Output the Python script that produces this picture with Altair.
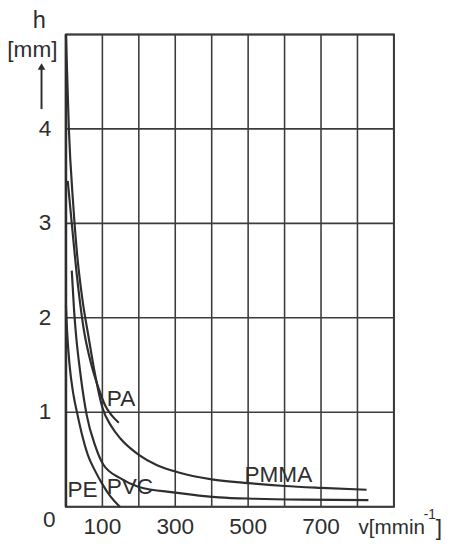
import altair as alt
import pandas as pd

FONT = "Liberation Sans"
INK = "#2e2e2e"

# curve data: v [m/min], h [mm]
pe_v = [0, 3, 10, 20, 32, 45, 60, 80, 100, 120, 148]
pe_h = [2.13, 1.87, 1.5, 1.2, 0.97, 0.75, 0.55, 0.38, 0.24, 0.12, 0.0]

pvc_v = [16, 22, 27, 40, 57, 80, 102, 150, 200, 300, 420, 520, 650, 830]
pvc_h = [2.5, 2.1, 1.85, 1.4, 0.97, 0.65, 0.45, 0.3, 0.21, 0.15, 0.1, 0.085, 0.075, 0.07]

pa_v = [5, 16, 30, 48, 70, 90, 108, 125, 145]
pa_h = [3.45, 3.0, 2.45, 1.9, 1.5, 1.25, 1.07, 0.97, 0.89]

pmma_v = [0, 8, 20, 30, 45, 62, 80, 100, 125, 150, 200, 250, 312, 400, 500, 600, 700, 825]
pmma_h = [5.0, 4.0, 3.2, 2.7, 2.2, 1.8, 1.4, 1.05, 0.85, 0.72, 0.55, 0.44, 0.36, 0.29, 0.25, 0.22, 0.2, 0.18]

# grid and tick labels
x_grid = [0, 100, 200, 300, 400, 500, 600, 700, 800, 900]
y_grid = [0, 1, 2, 3, 4, 5]
x_labels = [100, 300, 500, 700]
y_labels = [1, 2, 3, 4]

# curve labels
lab_text = ["PA", "PMMA", "PVC", "PE"]
lab_v = [112, 490, 112, 4]
lab_h = [1.14, 0.34, 0.21, 0.18]

rows = []
for name, vs, hs in [("PE", pe_v, pe_h), ("PVC", pvc_v, pvc_h),
                     ("PA", pa_v, pa_h), ("PMMA", pmma_v, pmma_h)]:
    for i, (v, h) in enumerate(zip(vs, hs)):
        rows.append({"series": name, "v": v, "h": h, "o": i})
df = pd.DataFrame(rows)

xs = alt.Scale(domain=[0, 900], nice=False, zero=False)
ys = alt.Scale(domain=[0, 5], nice=False, zero=False)
X = lambda f: alt.X(f, type="quantitative", scale=xs, axis=None)
Y = lambda f: alt.Y(f, type="quantitative", scale=ys, axis=None)

GRID = "#3c3c3c"
vgrid = alt.Chart(pd.DataFrame({"v": x_grid, "a": 0, "b": 5})).mark_rule(
    color=GRID, strokeWidth=1.6).encode(x=X("v"), y=Y("a"), y2="b")
hgrid = alt.Chart(pd.DataFrame({"h": y_grid, "a": 0, "b": 900})).mark_rule(
    color=GRID, strokeWidth=1.6).encode(y=Y("h"), x=X("a"), x2="b")
left_axis = alt.Chart(pd.DataFrame({"v": [0], "a": [0], "b": [5]})).mark_rule(
    color=INK, strokeWidth=2.6).encode(x=X("v"), y=Y("a"), y2="b")

lines = alt.Chart(df).mark_line(
    color=INK, strokeWidth=2.2, interpolate="monotone", clip=False
).encode(x=X("v"), y=Y("h"), detail="series:N", order="o:Q")

labels = alt.Chart(pd.DataFrame({"t": lab_text, "v": lab_v, "h": lab_h})).mark_text(
    font=FONT, fontSize=23, color=INK, align="left", baseline="middle"
).encode(x=X("v"), y=Y("h"), text="t:N")

xlab = alt.Chart(pd.DataFrame({"t": [str(v) for v in x_labels], "v": x_labels,
                               "h": [-0.22] * len(x_labels)})).mark_text(
    font=FONT, fontSize=23, color=INK, align="center", baseline="middle"
).encode(x=X("v"), y=Y("h"), text="t:N")

ylab = alt.Chart(pd.DataFrame({"t": [str(v) for v in y_labels], "h": y_labels,
                               "v": [-40] * len(y_labels)})).mark_text(
    font=FONT, fontSize=23, color=INK, align="right", baseline="middle"
).encode(x=X("v"), y=Y("h"), text="t:N")

# annotation texts outside the plot: origin "0", x and y titles
ann_text = ["0", "v[mmin", "]", "h", "[mm]"]
ann_v = [-46, 803, 1015, -73, -92]
ann_h = [-0.14, -0.23, -0.23, 5.14, 4.83]
ann_size = [23, 21, 23, 24, 23]
ann_align = ["center", "left", "left", "center", "center"]
ann_df = pd.DataFrame({"t": ann_text, "v": ann_v, "h": ann_h, "s": ann_size, "a": ann_align})
ann_c = alt.Chart(ann_df[ann_df.a == "center"]).mark_text(
    font=FONT, color=INK, baseline="middle", align="center"
).encode(x=X("v"), y=Y("h"), text="t:N", size=alt.Size("s:Q", scale=None, legend=None))
ann_l = alt.Chart(ann_df[ann_df.a == "left"]).mark_text(
    font=FONT, color=INK, baseline="middle", align="left"
).encode(x=X("v"), y=Y("h"), text="t:N", size=alt.Size("s:Q", scale=None, legend=None))

# superscript exponent of the unit
sup_df = pd.DataFrame({"t": ["-1"], "v": [982], "h": [-0.09]})
sup = alt.Chart(sup_df).mark_text(
    font=FONT, fontSize=14, color=INK, align="left", baseline="middle"
).encode(x=X("v"), y=Y("h"), text="t:N")

# upward arrow under the y title
arrow_v = [-67]
arrow_h0 = [4.21]
arrow_h1 = [4.66]
arrow_df = pd.DataFrame({"v": arrow_v, "h0": arrow_h0, "h1": arrow_h1})
arrow_line = alt.Chart(arrow_df).mark_rule(color=INK, strokeWidth=2).encode(
    x=X("v"), y=Y("h0"), y2="h1")
arrow_head = alt.Chart(arrow_df).mark_point(
    shape="triangle-up", filled=True, color=INK, size=60, opacity=1
).encode(x=X("v"), y=Y("h1"))

chart = alt.layer(vgrid, hgrid, left_axis, lines, labels, xlab, ylab, ann_c, ann_l, sup,
                  arrow_line, arrow_head).properties(
    width=334, height=481,
    background="white",
    autosize=alt.AutoSizeParams(type="none"),
    padding={"left": 59, "top": 22, "right": 50, "bottom": 33},
).configure_view(stroke=INK, strokeWidth=2)

chart.save("out.html", embed_options={"renderer": "svg", "actions": False})
